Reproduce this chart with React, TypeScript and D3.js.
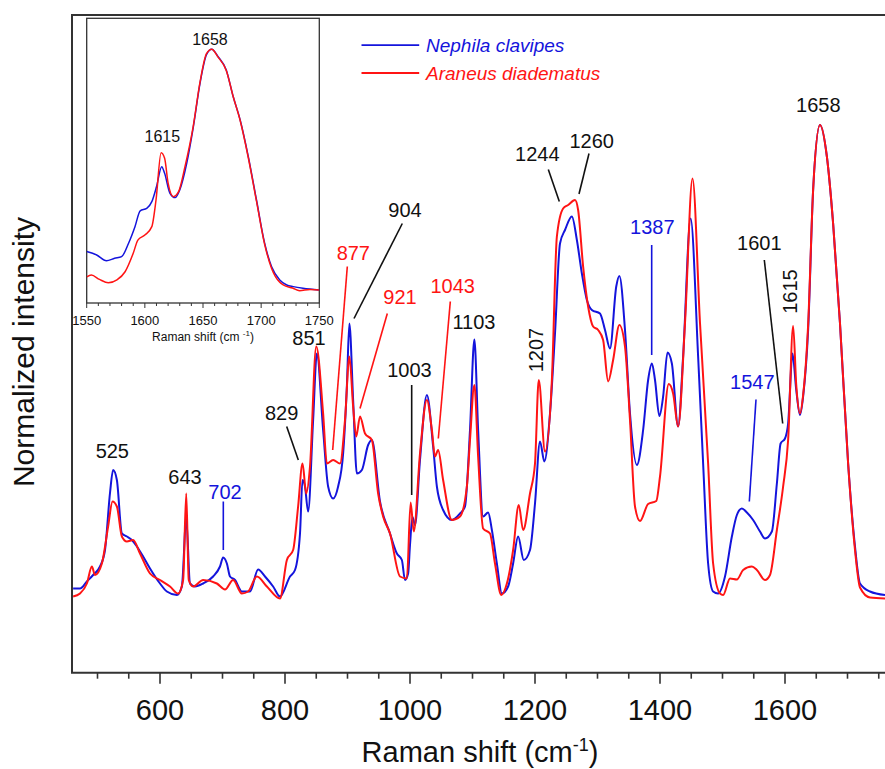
import React from 'react';
import * as d3 from 'd3';

// Raman spectra, [shift cm-1, normalized intensity] (1658 band = 100)
const nephila: [number, number][] = [
  [461, 7.3], [472, 7.3], [483, 8.7], [493, 10], [504, 11.7], [512, 15], [520, 26.4], [525, 31], [531, 29],
  [539, 18.3], [547, 17.7], [555, 17], [563, 15.7], [573, 13.7], [584, 11.3], [600, 8.3], [611, 6.7], [627, 6],
  [635, 7.7], [642, 21.3], [648, 8.3], [656, 7.7], [669, 8.3], [685, 9.7], [696, 11.7], [701, 13.5], [707, 12.3],
  [712, 9.7], [720, 9], [731, 6.7], [744, 6.7], [757, 11.1], [768, 9.7], [781, 7.7], [792, 5.7], [808, 9.7],
  [816, 11], [824, 18.3], [828, 29], [832, 27.7], [837, 22.7], [845, 41], [851, 54.3], [861, 39], [869, 27.7],
  [877, 25.3], [885, 27.7], [893, 34.3], [899, 47.7], [903, 60.3], [909, 45], [915, 30.3], [923, 31], [933, 36],
  [939, 37], [952, 24.7], [968, 18.3], [979, 14.3], [987, 13], [992, 9], [997, 10.3], [1000, 16], [1004, 21.6],
  [1008, 20], [1016, 33], [1027, 46], [1037, 35.7], [1043, 27.7], [1053, 23], [1067, 21], [1080, 22.3],
  [1088, 23.7], [1096, 39], [1103, 57.1], [1109, 39], [1117, 21.7], [1125, 22.5], [1131, 19], [1139, 12.3],
  [1147, 6.3], [1157, 7.7], [1165, 12.3], [1173, 17.7], [1182, 13], [1192, 15], [1200, 24.3], [1208, 36.7],
  [1215, 32.7], [1224, 42.3], [1232, 58.3], [1240, 76.3], [1248, 79], [1259, 81.7], [1267, 77], [1275, 70.3],
  [1283, 65], [1291, 63], [1304, 62.3], [1312, 59], [1320, 55.3], [1330, 67.7], [1335, 69.8], [1344, 59],
  [1352, 42.3], [1363, 32], [1373, 39], [1381, 49], [1387, 52.3], [1392, 49], [1399, 41.8], [1405, 45.7],
  [1412, 54.5], [1419, 52.3], [1429, 39.7], [1437, 53.7], [1449, 81.3], [1461, 53.7], [1469, 32.3], [1477, 12.3],
  [1485, 6.7], [1493, 6.3], [1504, 9.7], [1515, 17.7], [1523, 22], [1531, 23.3], [1539, 22.5], [1549, 21],
  [1560, 18.7], [1568, 17.3], [1579, 18.7], [1587, 28.3], [1593, 36.3], [1600, 37.3], [1605, 40.3], [1612, 54.3],
  [1618, 47], [1624, 42], [1629, 45.7], [1637, 59], [1645, 87], [1656, 100], [1667, 93.7], [1677, 80.3],
  [1688, 60.3], [1701, 32.3], [1712, 15.7], [1720, 8.3], [1736, 6.7], [1760, 6],
];

const araneus: [number, number][] = [
  [461, 5.7], [472, 6.3], [483, 8.3], [491, 11.7], [496, 10], [507, 12.3], [517, 19.7], [524, 24.7], [531, 23.7],
  [539, 17.7], [547, 16.7], [557, 17], [568, 14.3], [584, 10.3], [600, 9], [616, 7.7], [629, 6.3], [637, 9],
  [642, 26.3], [646, 9], [653, 7.7], [669, 9], [691, 8.3], [704, 7.1], [717, 9], [731, 6.3], [741, 6.7],
  [755, 9.7], [771, 7.7], [792, 5.3], [803, 13], [813, 15], [821, 23.7], [828, 32.3], [834, 26.3], [840, 31.7],
  [850, 55.7], [861, 42.3], [867, 32.3], [877, 33], [888, 32.3], [896, 41], [903, 53.7], [909, 43.7], [914, 37.7],
  [920, 41.7], [928, 38.3], [939, 37], [949, 26.3], [957, 21.7], [968, 18.3], [984, 9.7], [995, 9.3],
  [1001, 24.5], [1006, 18.7], [1016, 34.3], [1027, 45], [1035, 39], [1040, 33.7], [1045, 35], [1053, 29],
  [1067, 21], [1080, 21.7], [1091, 27.7], [1096, 37], [1103, 48], [1109, 33.7], [1117, 19.3], [1128, 18.3],
  [1136, 12.3], [1146, 6], [1155, 8.3], [1165, 15], [1174, 24], [1181, 19], [1192, 26.3], [1200, 32.3],
  [1206, 49], [1216, 34.7], [1227, 49], [1235, 77.7], [1245, 83.3], [1253, 84], [1264, 85], [1269, 83],
  [1277, 71.7], [1285, 63.7], [1293, 59.7], [1301, 59], [1309, 57], [1317, 48.7], [1325, 53], [1335, 60],
  [1344, 55.7], [1352, 41], [1360, 23.7], [1368, 20.8], [1381, 24.2], [1394, 24.8], [1400, 29.7], [1414, 48.2],
  [1421, 46.3], [1429, 39.7], [1440, 60.4], [1452, 89.3], [1464, 60.4], [1477, 32.3], [1485, 12.3], [1496, 6.3],
  [1501, 6], [1512, 9.3], [1523, 9.1], [1533, 11], [1547, 11.7], [1555, 11], [1568, 9], [1576, 10], [1587, 19],
  [1597, 27.7], [1605, 37], [1613, 59.8], [1618, 48], [1624, 42.3], [1629, 46], [1637, 60], [1645, 87],
  [1656, 100], [1667, 93.7], [1677, 80.3], [1688, 60.3], [1701, 32.3], [1712, 15], [1720, 7.5], [1736, 5.5],
  [1760, 5.3],
];

// inset: amide I region, renormalized
const insetNephila: [number, number][] = [
  [1550, 16], [1558.6, 14.6], [1567, 12.2], [1574, 13.2], [1580, 13.9], [1586, 19.5], [1591.5, 26.4], [1596, 33],
  [1601.6, 34], [1606, 36.8], [1610, 43], [1614.5, 51.4], [1617, 48.6], [1621.6, 40.3], [1626, 38.5], [1630, 41.7],
  [1636, 52.8], [1641.7, 68], [1647.4, 86], [1653, 98], [1657.5, 100.3], [1663, 97.2], [1670, 91.7], [1676, 80.5],
  [1682, 70.8], [1689, 55.5], [1696, 37.5], [1703, 19.5], [1709, 9.7], [1716, 4.2], [1722, 2.1], [1727.6, 1.4],
  [1736, 0.7], [1750, 0],
];
const insetAraneus: [number, number][] = [
  [1550, 5.5], [1554, 6.2], [1561, 4.4], [1568.6, 3], [1576, 4.2], [1583, 7.6], [1590, 15.3], [1594, 20.8],
  [1600, 22.9], [1606, 26.4], [1609.6, 37.5], [1614, 57.2], [1617, 54.9], [1620, 44.5], [1624.5, 38.9], [1629, 41],
  [1634.5, 51.4], [1641.7, 68.5], [1647.4, 86.5], [1653, 98.5], [1657.5, 100.3], [1663, 97], [1670, 91.5],
  [1676, 80.5], [1682, 70.5], [1689, 55], [1696, 37], [1703, 19], [1709, 9], [1716, 3.2], [1719, 2.1],
  [1727, 0.8], [1733, -0.3], [1742, 0.2], [1750, 0],
];

const mainTickLabels = [600, 800, 1000, 1200, 1400, 1600];
const insetTickLabels = [1550, 1600, 1650, 1700, 1750];

// band labels: text, shift, intensity, which species ('' = both)
const bandLabels: { t: string; x: number; y: number; s: string; rot?: boolean }[] = [
  { t: '525', x: 523.7, y: 33.4, s: '' },
  { t: '643', x: 640, y: 28.2, s: '' },
  { t: '702', x: 704, y: 25.2, s: 'N' },
  { t: '829', x: 794.7, y: 41, s: '' },
  { t: '851', x: 838.4, y: 56, s: '' },
  { t: '877', x: 909.3, y: 73, s: 'A' },
  { t: '904', x: 992, y: 81.6, s: '' },
  { t: '921', x: 984, y: 64.2, s: 'A' },
  { t: '1003', x: 999.2, y: 49.6, s: '' },
  { t: '1043', x: 1068.3, y: 66.4, s: 'A' },
  { t: '1103', x: 1102.4, y: 59.2, s: '' },
  { t: '1207', x: 1200.8, y: 55, s: '', rot: true },
  { t: '1244', x: 1203.7, y: 92.8, s: '' },
  { t: '1260', x: 1290.7, y: 95.4, s: '' },
  { t: '1387', x: 1387.7, y: 78.2, s: 'N' },
  { t: '1547', x: 1547.7, y: 47.2, s: 'N' },
  { t: '1601', x: 1558.9, y: 75, s: '' },
  { t: '1615', x: 1608, y: 66.7, s: '', rot: true },
  { t: '1658', x: 1653.3, y: 102.6, s: '' },
];

// leader lines [x1, y1, x2, y2] in data units
const leaders: { p: [number, number, number, number]; s: string }[] = [
  { p: [701.3, 24.7, 701.3, 15], s: 'N' },
  { p: [802.7, 39.7, 821.3, 33], s: '' },
  { p: [899.7, 71.7, 876.3, 35], s: 'A' },
  { p: [987.7, 80.3, 910.4, 61.3], s: '' },
  { p: [963.7, 62.3, 920, 43.3], s: 'A' },
  { p: [1002.7, 48, 1002.7, 26], s: '' },
  { p: [1064.5, 64.7, 1045.3, 37.3], s: 'A' },
  { p: [1221.3, 91.1, 1238.9, 84.7], s: '' },
  { p: [1286.4, 94.3, 1270.4, 86.2], s: '' },
  { p: [1386.7, 76, 1386.7, 54], s: 'N' },
  { p: [1553.6, 45.1, 1542.9, 24.7], s: 'N' },
  { p: [1566.9, 73, 1596.3, 40.3], s: '' },
];

const insetLabels = [
  { t: '1658', x: 1656, y: 101.9 },
  { t: '1615', x: 1615, y: 61.7 },
];

const BLUE = '#1414dc';
const RED = '#ff1414';
const INK = '#111';
const AXIS = '#333';
const colorOf = (s: string) => (s === 'N' ? BLUE : s === 'A' ? RED : INK);
const FONT = '"Liberation Sans", Arial, Helvetica, sans-serif';

const frame = { left: 72, top: 15, right: 885, bottom: 672.7 };
const inset = { left: 86.7, top: 18.3, right: 319.3, bottom: 303 };

export default function App() {
  const x = d3.scaleLinear().domain([459.2, 1760]).range([frame.left, frame.right]);
  const y = d3.scaleLinear().domain([-9.54, 122]).range([frame.bottom, frame.top]);
  const ix = d3.scaleLinear().domain([1550, 1750]).range([inset.left, inset.right]);
  const iy = d3.scaleLinear().domain([-5.42, 113.2]).range([inset.bottom, inset.top]);

  const line = d3.line<[number, number]>().x(d => x(d[0])).y(d => y(d[1])).curve(d3.curveMonotoneX);
  const iline = d3.line<[number, number]>().x(d => ix(d[0])).y(d => iy(d[1])).curve(d3.curveMonotoneX);

  const mainTicks = d3.range(500, 1760, 50);
  const insetTicks = d3.range(1550, 1751, 10);

  return (
    <svg width={885} height={769} style={{ position: 'absolute', left: 0, top: 0, background: '#fff' }}
      fontFamily={FONT}>
      <defs>
        <clipPath id="mainClip">
          <rect x={frame.left} y={frame.top} width={frame.right - frame.left} height={frame.bottom - frame.top} />
        </clipPath>
        <clipPath id="insetClip">
          <rect x={inset.left} y={inset.top} width={inset.right - inset.left} height={inset.bottom - inset.top} />
        </clipPath>
      </defs>
      <rect width={885} height={769} fill="#fff" />

      {/* spectra */}
      <g clipPath="url(#mainClip)" fill="none" strokeWidth={2} strokeLinejoin="round">
        <path d={line(nephila) || ''} stroke={BLUE} />
        <path d={line(araneus) || ''} stroke={RED} />
      </g>

      {/* frame */}
      <path d={`M${frame.right + 10},${frame.top}H${frame.left}V${frame.bottom}H${frame.right + 10}`}
        fill="none" stroke={AXIS} strokeWidth={2} />
      {mainTicks.map(t => (
        <line key={t} x1={x(t)} x2={x(t)} y1={frame.bottom} y2={frame.bottom + (t % 200 === 0 ? 11 : 6)}
          stroke={AXIS} strokeWidth={1.6} />
      ))}
      {mainTickLabels.map(t => (
        <text key={t} x={x(t)} y={720} fontSize={29} textAnchor="middle" fill={INK}>{t}</text>
      ))}
      <text x={480} y={762} fontSize={29} textAnchor="middle" fill={INK}>
        <tspan>Raman shift (cm</tspan>
        <tspan dy={-11} fontSize={18}>-1</tspan>
        <tspan dy={11}>)</tspan>
      </text>
      <text transform="translate(34,352) rotate(-90)" fontSize={30} textAnchor="middle" fill={INK}>
        Normalized intensity
      </text>

      {/* band annotations */}
      {leaders.map((l, i) => (
        <line key={i} x1={x(l.p[0])} y1={y(l.p[1])} x2={x(l.p[2])} y2={y(l.p[3])}
          stroke={colorOf(l.s)} strokeWidth={1.6} />
      ))}
      {bandLabels.map(b => b.rot ? (
        <text key={b.t} transform={`translate(${x(b.x)},${y(b.y)}) rotate(-90)`} fontSize={20}
          textAnchor="middle" dominantBaseline="central" fill={colorOf(b.s)}>{b.t}</text>
      ) : (
        <text key={b.t} x={x(b.x)} y={y(b.y)} fontSize={20} textAnchor="middle" fill={colorOf(b.s)}>{b.t}</text>
      ))}

      {/* legend */}
      <line x1={361.5} x2={419.2} y1={45.2} y2={45.2} stroke={BLUE} strokeWidth={1.8} />
      <text x={426} y={52} fontSize={19} fontStyle="italic" fill={BLUE}>Nephila clavipes</text>
      <line x1={361.5} x2={419.2} y1={73} y2={73} stroke={RED} strokeWidth={1.8} />
      <text x={426} y={80} fontSize={19} fontStyle="italic" fill={RED}>Araneus diadematus</text>

      {/* inset */}
      <rect x={inset.left} y={inset.top} width={inset.right - inset.left} height={inset.bottom - inset.top}
        fill="#fff" stroke={AXIS} strokeWidth={1.3} />
      <g clipPath="url(#insetClip)" fill="none" strokeWidth={1.5} strokeLinejoin="round">
        <path d={iline(insetNephila) || ''} stroke={BLUE} />
        <path d={iline(insetAraneus) || ''} stroke={RED} />
      </g>
      {insetTicks.map(t => (
        <line key={t} x1={ix(t)} x2={ix(t)} y1={inset.bottom} y2={inset.bottom + (t % 50 === 0 ? 5 : 3)}
          stroke={AXIS} strokeWidth={1} />
      ))}
      {insetTickLabels.map(t => (
        <text key={t} x={ix(t)} y={325} fontSize={13} textAnchor="middle" fill={INK}>{t}</text>
      ))}
      <text x={(inset.left + inset.right) / 2} y={341} fontSize={12} textAnchor="middle" fill={INK}>
        <tspan>Raman shift (cm </tspan>
        <tspan dy={-5} fontSize={8}>-1</tspan>
        <tspan dy={5}>)</tspan>
      </text>
      {insetLabels.map(l => (
        <text key={l.t} x={ix(l.x)} y={iy(l.y)} fontSize={16} textAnchor="middle" fill={INK}>{l.t}</text>
      ))}
    </svg>
  );
}
